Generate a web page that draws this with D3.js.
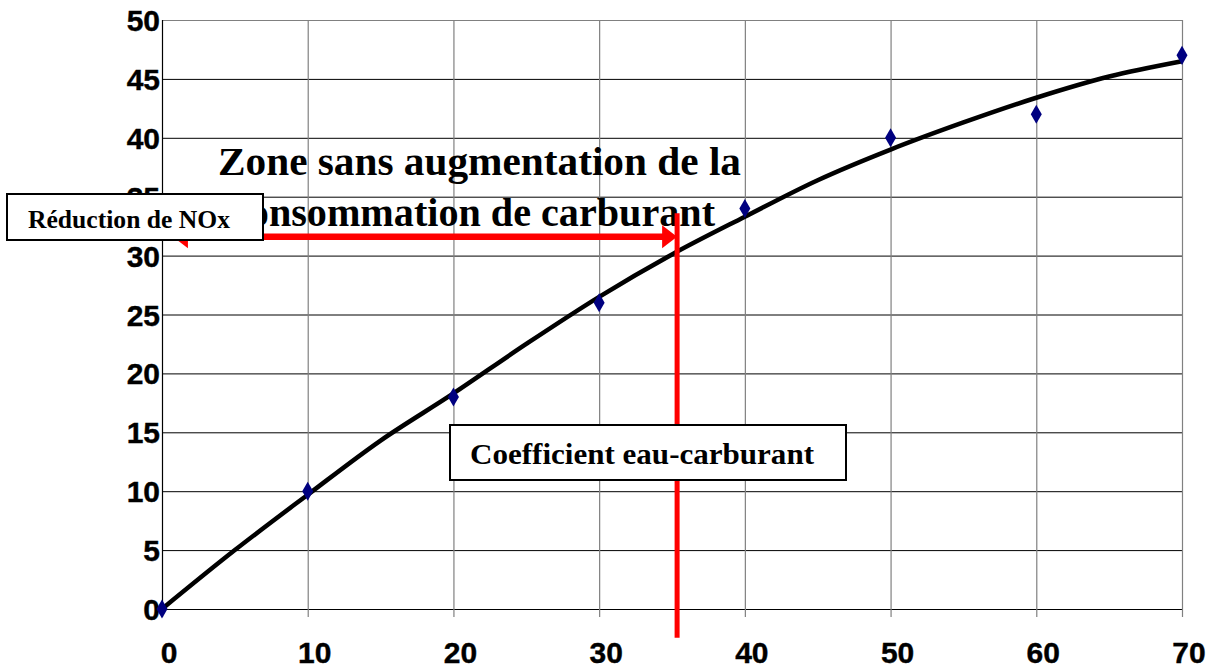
<!DOCTYPE html>
<html><head><meta charset="utf-8">
<script src="https://cdn.jsdelivr.net/npm/d3@7"></script>
<style>html,body{margin:0;padding:0;background:#fff;}svg{display:block;}</style>
</head><body>
<script>
// ---- data ----
const xTicks = [0, 10, 20, 30, 40, 50, 60, 70];
const yTicks = [0, 5, 10, 15, 20, 25, 30, 35, 40, 45, 50];
const pointX = [0, 10, 20, 30, 40, 50, 60, 70];
const pointY = [0, 10, 18, 26, 34, 40, 42, 47];
const curveX = [0, 5, 10, 15, 20, 25, 30, 35, 40, 45, 50, 55, 60, 65, 70];
const curveY = [0, 5.0, 9.7, 14.3, 18.3, 22.5, 26.5, 30.1, 33.3, 36.4, 39.0, 41.3, 43.4, 45.2, 46.5];
const arrowY = 31.6;
const arrowX = [0.75, 35.35];
const markerX = 35.35;
const markerY = [33.6, -2.45];
const titleLines = ["Zone sans augmentation de la", "consommation de carburant"];
const yLabelText = "Réduction de NOx";
const xLabelText = "Coefficient eau-carburant";

const W = 1211, H = 669;
const svg = d3.select("body").append("svg").attr("width", W).attr("height", H);
const x = d3.scaleLinear().domain([0, 70]).range([162, 1182]);
const y = d3.scaleLinear().domain([0, 50]).range([609, 20]);

// gridlines
const g = svg.append("g");
g.selectAll("line.h").data(yTicks).enter().append("line")
  .attr("x1", x(0)).attr("x2", x(70)).attr("y1", d => y(d) + 0.5).attr("y2", d => y(d) + 0.5)
  .attr("stroke", d => d === 50 ? "#808080" : "#000").attr("stroke-width", 1);
g.selectAll("line.v").data(xTicks.slice(1)).enter().append("line")
  .attr("x1", d => x(d) + 0.5).attr("x2", d => x(d) + 0.5).attr("y1", y(50)).attr("y2", y(0) + 8)
  .attr("stroke", "#808080").attr("stroke-width", 1.2);
// left axis
g.append("line").attr("x1", x(0) + 0.5).attr("x2", x(0) + 0.5).attr("y1", y(50)).attr("y2", y(0) + 8)
  .attr("stroke", "#000").attr("stroke-width", 1.2);

// tick labels
svg.selectAll("text.yl").data(yTicks).enter().append("text")
  .attr("x", 160).attr("y", d => y(d) + 11).attr("text-anchor", "end")
  .attr("font-family", "Liberation Sans, Arial, sans-serif").attr("font-weight", "bold").attr("font-size", 30)
  .attr("stroke", "#000").attr("stroke-width", 0.4)
  .text(d => d);
svg.selectAll("text.xl").data(xTicks).enter().append("text")
  .attr("x", d => x(d) + 7).attr("y", 663).attr("text-anchor", "middle")
  .attr("font-family", "Liberation Sans, Arial, sans-serif").attr("font-weight", "bold").attr("font-size", 30)
  .attr("stroke", "#000").attr("stroke-width", 0.4)
  .text(d => d);

// title text
const serif = "Liberation Serif, Times New Roman, serif";
svg.append("text").attr("x", 218).attr("y", 175)
  .attr("font-family", serif).attr("font-weight", "bold").attr("font-size", 39)
  .attr("textLength", 523).attr("lengthAdjust", "spacingAndGlyphs").text(titleLines[0]);
svg.append("text").attr("x", 231).attr("y", 226)
  .attr("font-family", serif).attr("font-weight", "bold").attr("font-size", 39)
  .attr("textLength", 484).attr("lengthAdjust", "spacingAndGlyphs").text(titleLines[1]);

// curve
const curveData = curveX.map((v, i) => [v, curveY[i]]);
svg.append("path").datum(curveData)
  .attr("d", d3.line().x(d => x(d[0])).y(d => y(d[1])).curve(d3.curveCatmullRom))
  .attr("fill", "none").attr("stroke", "#000").attr("stroke-width", 4.5).attr("stroke-linejoin", "round");

// points
const pts = pointX.map((v, i) => [v, pointY[i]]);
svg.selectAll("path.pt").data(pts).enter().append("path")
  .attr("d", d3.symbol(d3.symbolDiamond, 105))
  .attr("transform", d => `translate(${x(d[0])},${y(d[1])})`)
  .attr("fill", "#000080");

// red arrows
const red = "#ff0000";
const ay = y(arrowY);
const x1 = x(arrowX[0]), x2 = x(arrowX[1]);
svg.append("line").attr("x1", x1 + 12).attr("x2", x2 - 12).attr("y1", ay).attr("y2", ay)
  .attr("stroke", red).attr("stroke-width", 6.5);
svg.append("path").attr("d", `M${x1},${ay} L${x1 + 15},${ay - 11.5} L${x1 + 15},${ay + 11.5} Z`).attr("fill", red);
svg.append("path").attr("d", `M${x2},${ay} L${x2 - 15},${ay - 11.5} L${x2 - 15},${ay + 11.5} Z`).attr("fill", red);
svg.append("line").attr("x1", x(markerX)).attr("x2", x(markerX)).attr("y1", y(markerY[0])).attr("y2", y(markerY[1]))
  .attr("stroke", red).attr("stroke-width", 5);

// label boxes
svg.append("rect").attr("x", 7).attr("y", 194).attr("width", 256).attr("height", 46)
  .attr("fill", "#fff").attr("stroke", "#000").attr("stroke-width", 2);
svg.append("text").attr("x", 28).attr("y", 228)
  .attr("font-family", serif).attr("font-weight", "bold").attr("font-size", 25)
  .attr("textLength", 202).attr("lengthAdjust", "spacingAndGlyphs").text(yLabelText);

svg.append("rect").attr("x", 450).attr("y", 425).attr("width", 396).attr("height", 55)
  .attr("fill", "#fff").attr("stroke", "#000").attr("stroke-width", 2);
svg.append("text").attr("x", 470).attr("y", 464)
  .attr("font-family", serif).attr("font-weight", "bold").attr("font-size", 30)
  .attr("textLength", 344).attr("lengthAdjust", "spacingAndGlyphs").text(xLabelText);
</script>
</body></html>
